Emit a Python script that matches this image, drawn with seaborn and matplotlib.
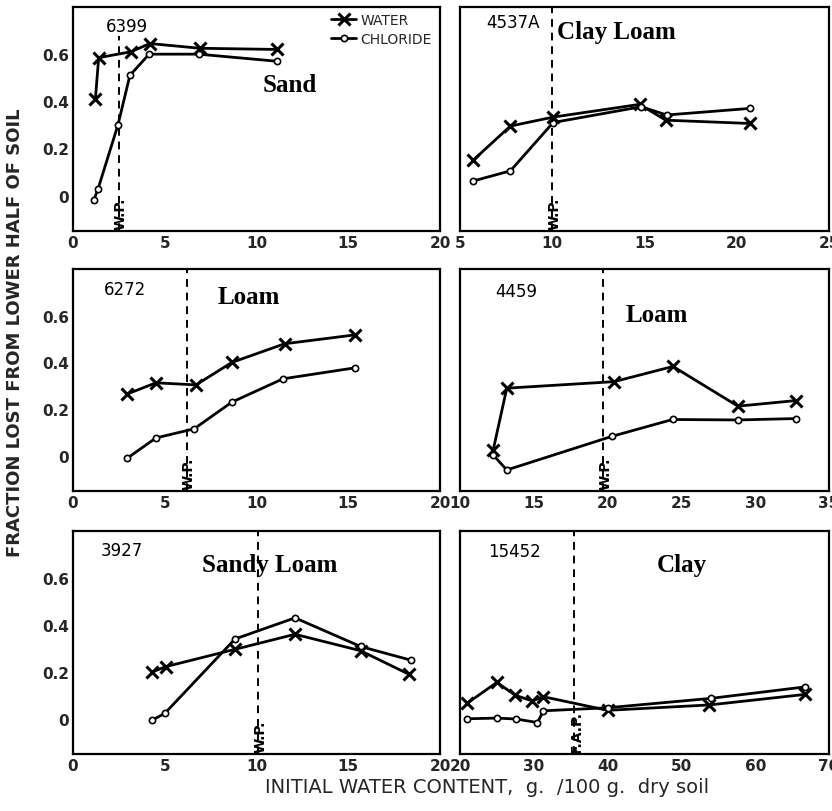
import matplotlib
matplotlib.use("Agg")
import matplotlib.pyplot as plt
import pandas as pd
import seaborn as sns

sns.set_theme(style="white")
plt.rcParams['font.family'] = ['DejaVu Sans']

# ---------------- data ----------------
# Panel 6399 (Sand)
sand_water_x = [1.22, 1.40, 3.15, 4.19, 6.92, 11.1]
sand_water_y = [0.41, 0.585, 0.61, 0.645, 0.625, 0.62]
sand_cl_x = [1.13, 1.37, 2.45, 3.1, 4.15, 6.85, 11.1]
sand_cl_y = [-0.02, 0.03, 0.30, 0.51, 0.60, 0.60, 0.57]

# Panel 4537A (Clay Loam)
clayloam_water_x = [5.71, 7.73, 10.05, 14.73, 16.15, 20.73]
clayloam_water_y = [0.15, 0.295, 0.333, 0.387, 0.32, 0.306]
clayloam_cl_x = [5.71, 7.73, 10.05, 14.82, 16.2, 20.73]
clayloam_cl_y = [0.062, 0.105, 0.31, 0.377, 0.342, 0.37]

# Panel 6272 (Loam)
loam1_water_x = [2.95, 4.52, 6.7, 8.65, 11.53, 15.36]
loam1_water_y = [0.265, 0.313, 0.304, 0.40, 0.48, 0.518]
loam1_cl_x = [2.95, 4.52, 6.6, 8.65, 11.44, 15.36]
loam1_cl_y = [-0.01, 0.077, 0.116, 0.23, 0.33, 0.377]

# Panel 4459 (Loam)
loam2_water_x = [12.25, 13.17, 20.45, 24.43, 28.83, 32.75]
loam2_water_y = [0.026, 0.29, 0.318, 0.383, 0.213, 0.237]
loam2_cl_x = [12.25, 13.17, 20.3, 24.4, 28.83, 32.75]
loam2_cl_y = [0.004, -0.06, 0.084, 0.156, 0.154, 0.16]

# Panel 3927 (Sandy Loam)
sandyloam_water_x = [4.28, 5.05, 8.83, 12.1, 15.67, 18.3]
sandyloam_water_y = [0.198, 0.222, 0.296, 0.36, 0.29, 0.19]
sandyloam_cl_x = [4.28, 5.0, 8.83, 12.1, 15.67, 18.4]
sandyloam_cl_y = [-0.007, 0.023, 0.34, 0.43, 0.308, 0.25]

# Panel 15452 (Clay)
clay_water_x = [20.96, 25.0, 27.5, 29.8, 31.3, 40.0, 53.8, 66.8]
clay_water_y = [0.066, 0.155, 0.10, 0.076, 0.094, 0.036, 0.059, 0.104]
clay_cl_x = [20.96, 25.0, 27.6, 30.5, 31.3, 40.0, 54.0, 66.8]
clay_cl_y = [0.0, 0.003, -0.001, -0.016, 0.034, 0.047, 0.087, 0.136]

panel_ids = ["6399", "4537A", "6272", "4459", "3927", "15452"]
soil_names = ["Sand", "Clay Loam", "Loam", "Loam", "Sandy Loam", "Clay"]
ref_lines = [2.5, 10.0, 6.2, 19.7, 10.1, 35.5]
ref_labels = ["W.P.", "W.P.", "W.P.", "W.P.", "W.P.", "F.A.P."]
x_limits = [(0, 20), (5, 25), (0, 20), (10, 35), (0, 20), (20, 70)]
x_ticks = [[0, 5, 10, 15, 20], [5, 10, 15, 20, 25], [0, 5, 10, 15, 20],
           [10, 15, 20, 25, 30, 35], [0, 5, 10, 15, 20], [20, 30, 40, 50, 60, 70]]
y_ticks = [0, 0.2, 0.4, 0.6]
y_ticklabels = ["0", "0.2", "0.4", "0.6"]

water_x = [sand_water_x, clayloam_water_x, loam1_water_x, loam2_water_x, sandyloam_water_x, clay_water_x]
water_y = [sand_water_y, clayloam_water_y, loam1_water_y, loam2_water_y, sandyloam_water_y, clay_water_y]
cl_x = [sand_cl_x, clayloam_cl_x, loam1_cl_x, loam2_cl_x, sandyloam_cl_x, clay_cl_x]
cl_y = [sand_cl_y, clayloam_cl_y, loam1_cl_y, loam2_cl_y, sandyloam_cl_y, clay_cl_y]

# ---------------- layout ----------------
W, H = 832, 812
fig = plt.figure(figsize=(W / 100, H / 100), dpi=100)

col_px = [(73, 440), (460, 829)]
row_px = [(8, 232), (270, 492), (532, 755)]

# label positions (axes fraction)
id_pos = [(0.147, 0.915), (0.144, 0.933), (0.143, 0.91), (0.152, 0.90), (0.133, 0.915), (0.149, 0.91)]
name_pos = [(0.59, 0.656), (0.262, 0.89), (0.48, 0.874), (0.533, 0.793), (0.537, 0.848), (0.60, 0.848)]
name_ha = ["center", "left", "center", "center", "center", "center"]
line_top = [0.87, 1.0, 1.0, 1.0, 1.0, 1.0]

for i in range(6):
    r, c = divmod(i, 2)
    x0, x1 = col_px[c]
    y0, y1 = row_px[r]
    ax = fig.add_axes([x0 / W, 1 - y1 / H, (x1 - x0) / W, (y1 - y0) / H])

    dfw = pd.DataFrame({"x": water_x[i], "y": water_y[i]})
    dfc = pd.DataFrame({"x": cl_x[i], "y": cl_y[i]})
    sns.lineplot(data=dfw, x="x", y="y", ax=ax, sort=False, estimator=None,
                 color="black", linewidth=2.0, marker="x", markersize=8,
                 markeredgewidth=2.2, markeredgecolor="black", label="WATER")
    sns.lineplot(data=dfc, x="x", y="y", ax=ax, sort=False, estimator=None,
                 color="black", linewidth=2.0, marker="o", markersize=4.5,
                 markerfacecolor="white", markeredgecolor="black",
                 markeredgewidth=1.2, label="CHLORIDE")

    ax.axvline(ref_lines[i], ymax=line_top[i], color="black",
               linestyle=(0, (4, 3)), linewidth=1.4)
    ax.text(ref_lines[i] + (x_limits[i][1] - x_limits[i][0]) * 0.006, -0.142,
            ref_labels[i], rotation=90, ha="center", va="bottom",
            fontsize=10, fontweight="bold", color="black")

    ax.set_xlim(*x_limits[i])
    ax.set_ylim(-0.15, 0.8)
    ax.set_xticks(x_ticks[i])
    ax.set_xticklabels([str(t) for t in x_ticks[i]], fontsize=11, fontweight="bold")
    ax.set_yticks(y_ticks)
    if c == 0:
        ax.set_yticklabels(y_ticklabels, fontsize=11, fontweight="bold")
    else:
        ax.set_yticklabels([])
    ax.tick_params(direction="in", length=5, width=1.2, color="black", pad=3,
                   top=False, right=False)
    ax.set_xlabel("")
    ax.set_ylabel("")
    for s in ax.spines.values():
        s.set_color("black")
        s.set_linewidth(1.6)

    ax.text(id_pos[i][0], id_pos[i][1], panel_ids[i], transform=ax.transAxes,
            ha="center", va="center", fontsize=12, color="black")
    ax.text(name_pos[i][0], name_pos[i][1], soil_names[i], transform=ax.transAxes,
            ha=name_ha[i], va="center", fontsize=18, fontweight="bold",
            family="Liberation Serif", color="black")

    if i == 0:
        ax.legend(loc="upper right", bbox_to_anchor=(1.0, 1.01), frameon=False,
                  fontsize=10, handlelength=1.8, handletextpad=0.3,
                  labelspacing=0.35, borderaxespad=0.2)
    else:
        leg = ax.get_legend()
        if leg is not None:
            leg.remove()

fig.text(0.018, 0.59, "FRACTION LOST FROM LOWER HALF OF SOIL", rotation=90,
         ha="center", va="center", fontsize=13, fontweight="bold")
fig.text(0.585, 0.030, "INITIAL WATER CONTENT,  g.  /100 g.  dry soil",
         ha="center", va="center", fontsize=14)

fig.savefig("out.png", dpi=100, facecolor="white")
